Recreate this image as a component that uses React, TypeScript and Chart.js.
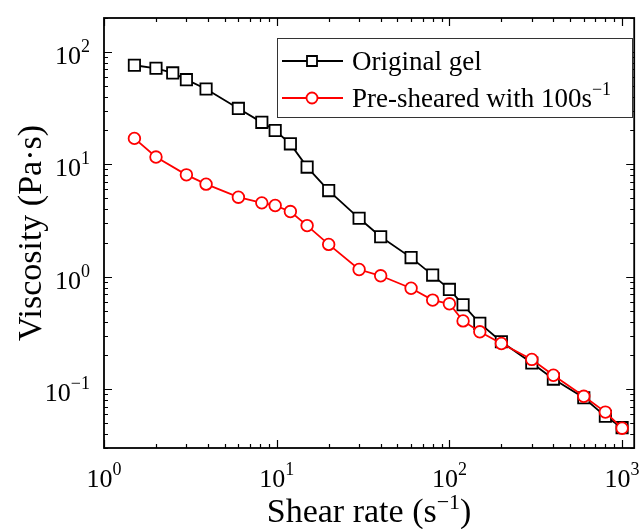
import React, { useEffect, useRef } from "react";
import { Chart, registerables } from "chart.js";

Chart.register(...registerables);

// ---- data ----
const shearRateOriginal = [1.5, 2, 2.5, 3, 3.9, 6, 8.2, 9.8, 12, 15, 20, 30, 40, 60, 80, 100, 120, 150, 200, 300, 400, 600, 800, 1000];
const viscosityOriginal = [76, 71.4, 65, 56.6, 46.8, 31.4, 23.6, 20, 15.2, 9.44, 5.84, 3.31, 2.27, 1.48, 1.035, 0.772, 0.563, 0.385, 0.264, 0.171, 0.123, 0.084, 0.0574, 0.0455];
const shearRatePresheared = [1.5, 2, 3, 3.9, 6, 8.2, 9.8, 12, 15, 20, 30, 40, 60, 80, 100, 120, 150, 200, 300, 400, 600, 800, 1000];
const viscosityPresheared = [17, 11.6, 8.06, 6.66, 5.1, 4.54, 4.3, 3.8, 2.85, 1.94, 1.16, 1.02, 0.79, 0.62, 0.575, 0.405, 0.324, 0.255, 0.184, 0.133, 0.0865, 0.0626, 0.045];

const seriesLabels = ["Original gel", "Pre-sheared with 100s"];
const seriesLabelSup = ["", "\u22121"];
const seriesColors = ["#000000", "#ff0000"];
const seriesPointStyles = ["rect", "circle"];

const xTickValues = [1, 10, 100, 1000];
const xTickExponents = ["0", "1", "2", "3"];
const yTickValues = [0.1, 1, 10, 100];
const yTickExponents = ["\u22121", "0", "1", "2"];
const tickBase = "10";

const xTitleMain = "Shear rate (s";
const xTitleSup = "\u22121";
const xTitleEnd = ")";
const yTitle = "Viscosity (Pa\u00b7s)";

const xRange = [1, 1175];
const yRange = [0.03, 200];

const FONT = "'Liberation Serif', 'Times New Roman', serif";

function drawSup(
  ctx: CanvasRenderingContext2D,
  parts: { text: string; sup?: boolean }[],
  x: number,
  y: number,
  align: "left" | "center" | "right",
  size: number,
  supSize: number,
  rise: number
) {
  const widths = parts.map((p) => {
    ctx.font = `${p.sup ? supSize : size}px ${FONT}`;
    return ctx.measureText(p.text).width;
  });
  const total = widths.reduce((a, b) => a + b, 0);
  let cx = align === "left" ? x : align === "center" ? x - total / 2 : x - total;
  ctx.textAlign = "left";
  ctx.textBaseline = "alphabetic";
  parts.forEach((p, i) => {
    ctx.font = `${p.sup ? supSize : size}px ${FONT}`;
    ctx.fillText(p.text, cx, p.sup ? y - rise : y);
    cx += widths[i];
  });
}

const decorPlugin = {
  id: "decor",
  afterDraw(chart: any) {
    const ctx: CanvasRenderingContext2D = chart.ctx;
    const { left, right, top, bottom } = chart.chartArea;
    const xs = chart.scales.x;
    const ys = chart.scales.y;
    ctx.save();
    ctx.fillStyle = "#000";
    ctx.strokeStyle = "#000";

    // ticks
    ctx.lineWidth = 1.2;
    const tickVals = (min: number, max: number) => {
      const out: { v: number; major: boolean }[] = [];
      for (let d = Math.floor(Math.log10(min)); d <= Math.ceil(Math.log10(max)); d++) {
        for (let m = 1; m <= 9; m++) {
          const v = m * Math.pow(10, d);
          if (v >= min * 0.9999 && v <= max * 1.0001) out.push({ v, major: m === 1 });
        }
      }
      return out;
    };
    ctx.beginPath();
    tickVals(xRange[0], xRange[1]).forEach(({ v, major }) => {
      const px = Math.round(xs.getPixelForValue(v)) + 0.5;
      const len = major ? 8 : 4;
      ctx.moveTo(px, bottom);
      ctx.lineTo(px, bottom - len);
      ctx.moveTo(px, top);
      ctx.lineTo(px, top + len);
    });
    tickVals(yRange[0], yRange[1]).forEach(({ v, major }) => {
      const py = Math.round(ys.getPixelForValue(v)) + 0.5;
      const len = major ? 8 : 4;
      ctx.moveTo(left, py);
      ctx.lineTo(left + len, py);
      ctx.moveTo(right, py);
      ctx.lineTo(right - len, py);
    });
    ctx.stroke();

    // frame
    ctx.lineWidth = 1.8;
    ctx.strokeRect(left, top, right - left, bottom - top);

    // tick labels
    xTickValues.forEach((v, i) => {
      const px = xs.getPixelForValue(v);
      drawSup(ctx, [{ text: tickBase }, { text: xTickExponents[i], sup: true }], px, bottom + 39, "center", 26, 18, 12);
    });
    yTickValues.forEach((v, i) => {
      const py = ys.getPixelForValue(v);
      drawSup(ctx, [{ text: tickBase }, { text: yTickExponents[i], sup: true }], left - 14, py + 12, "right", 26, 18, 12);
    });

    // axis titles
    drawSup(
      ctx,
      [{ text: xTitleMain }, { text: xTitleSup, sup: true }, { text: xTitleEnd }],
      (left + right) / 2,
      522,
      "center",
      34,
      22,
      13
    );
    ctx.save();
    ctx.translate(41, (top + bottom) / 2);
    ctx.rotate(-Math.PI / 2);
    drawSup(ctx, [{ text: yTitle }], 0, 0, "center", 34, 22, 13);
    ctx.restore();

    // legend
    const lx = 277, ly = 38, lw = 355, lh = 79;
    ctx.fillStyle = "#fff";
    ctx.fillRect(lx, ly, lw, lh);
    ctx.strokeStyle = "#333";
    ctx.lineWidth = 1;
    ctx.strokeRect(lx + 0.5, ly + 0.5, lw, lh);
    const rows = [61, 98];
    chart.data.datasets.forEach((ds: any, i: number) => {
      const ry = rows[i];
      ctx.strokeStyle = seriesColors[i];
      ctx.lineWidth = 1.8;
      ctx.beginPath();
      ctx.moveTo(282, ry);
      ctx.lineTo(343, ry);
      ctx.stroke();
      ctx.fillStyle = "#fff";
      ctx.beginPath();
      if (seriesPointStyles[i] === "rect") {
        ctx.rect(312 - 5, ry - 5, 10, 10);
      } else {
        ctx.arc(312, ry, 5.5, 0, Math.PI * 2);
      }
      ctx.fill();
      ctx.stroke();
      ctx.fillStyle = "#000";
      const parts: { text: string; sup?: boolean }[] = [{ text: seriesLabels[i] }];
      if (seriesLabelSup[i]) parts.push({ text: seriesLabelSup[i], sup: true });
      drawSup(ctx, parts, 352, ry + 9, "left", 27, 18, 12);
    });

    ctx.restore();
  },
};

export default function App() {
  const ref = useRef<HTMLCanvasElement | null>(null);
  useEffect(() => {
    if (!ref.current) return;
    const chart = new Chart(ref.current, {
      type: "line",
      data: {
        datasets: [
          {
            label: seriesLabels[0],
            data: shearRateOriginal.map((x, i) => ({ x, y: viscosityOriginal[i] })),
            order: 2,
            borderColor: seriesColors[0],
            backgroundColor: "#ffffff",
            borderWidth: 1.8,
            pointStyle: "rect",
            pointRadius: 8,
            pointBorderWidth: 1.8,
            pointBorderColor: seriesColors[0],
            pointBackgroundColor: "#ffffff",
          },
          {
            label: seriesLabels[1],
            data: shearRatePresheared.map((x, i) => ({ x, y: viscosityPresheared[i] })),
            order: 1,
            borderColor: seriesColors[1],
            backgroundColor: "#ffffff",
            borderWidth: 1.8,
            pointStyle: "circle",
            pointRadius: 5.8,
            pointBorderWidth: 1.8,
            pointBorderColor: seriesColors[1],
            pointBackgroundColor: "#ffffff",
          },
        ],
      },
      options: {
        responsive: false,
        animation: false,
        layout: { padding: { left: 104, top: 18, right: 8, bottom: 81 } },
        plugins: { legend: { display: false }, tooltip: { enabled: false } },
        scales: {
          x: { type: "logarithmic", min: xRange[0], max: xRange[1], display: false },
          y: { type: "logarithmic", min: yRange[0], max: yRange[1], display: false },
        },
      },
      plugins: [decorPlugin],
    } as any);
    return () => chart.destroy();
  }, []);
  return (
    <div style={{ position: "absolute", left: 0, top: 0, width: 644, height: 529, background: "#fff" }}>
      <canvas ref={ref} width={644} height={529} />
    </div>
  );
}
